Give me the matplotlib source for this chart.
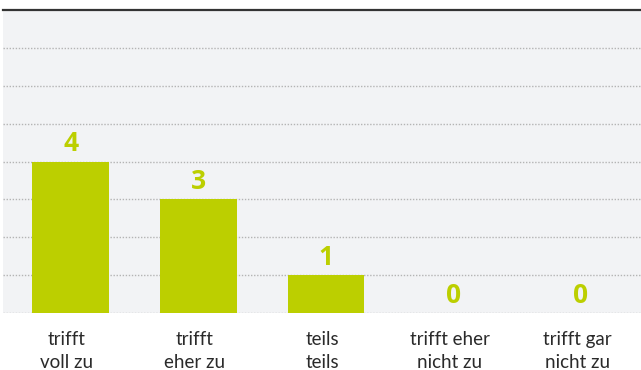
import matplotlib.pyplot as plt
import numpy as np

categories = ["trifft\nvoll zu", "trifft\neher zu", "teils\nteils",
              "trifft eher\nnicht zu", "trifft gar\nnicht zu"]
values = [4, 3, 1, 0, 0]

green = "#bccf00"

fig = plt.figure(figsize=(6.41, 3.70), dpi=100)
ax = fig.add_axes([3 / 641, 1 - 313 / 370, 638 / 641, 303 / 370])
ax.set_facecolor("#f2f3f5")

x = np.arange(len(categories))
ax.bar(x + 0.03, values, width=0.6, color=green, zorder=3)

for xi, v in zip(x, values):
    ax.text(xi + 0.03, v + 0.27, str(v), ha="center", va="baseline",
            fontsize=19, fontweight="bold", color=green,
            family=["Open Sans", "DejaVu Sans"], zorder=4)

ax.set_xlim(-0.5, 4.5)
ax.set_ylim(0, 8)

# dotted grid
for yv in range(0, 8):
    ax.axhline(yv, color="#b4b4b4", linewidth=1.0, linestyle=(0, (1, 1.2)),
               zorder=1)
ax.axhline(8, color="#333333", linewidth=1.6, zorder=5, clip_on=False)

for s in ax.spines.values():
    s.set_visible(False)
ax.set_yticks([])
ax.set_xticks(x)
ax.set_xticklabels(categories, fontsize=13.5, color="#2a2a2a",
                   family=["Lato", "DejaVu Sans"],
                   fontweight="normal", linespacing=1.4)
ax.tick_params(axis="x", length=0, pad=13)

fig.savefig("out.png", dpi=100)
